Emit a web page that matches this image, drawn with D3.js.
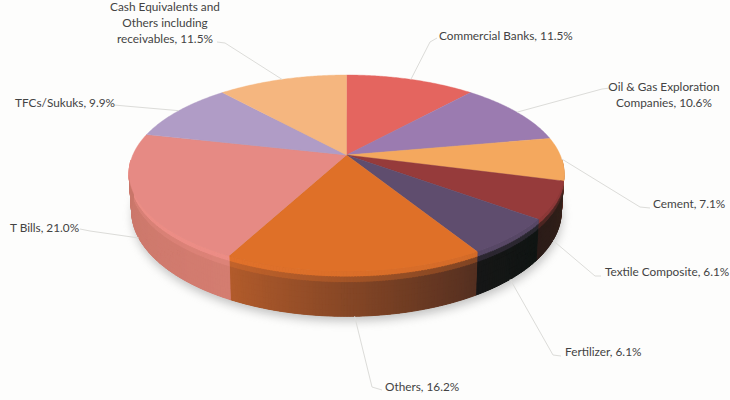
<!DOCTYPE html>
<html>
<head>
<meta charset="utf-8">
<script src="https://cdn.jsdelivr.net/npm/d3@7/dist/d3.min.js"></script>
<style>
  html, body { margin: 0; padding: 0; background: #fdfdfc; }
  svg { display: block; }
  text { font-family: Lato, "Open Sans", sans-serif; font-size: 11.8px; fill: #434343; }
</style>
</head>
<body>
<svg id="chart" width="730" height="400"></svg>
<script>
// Portfolio sectors, clockwise from twelve o'clock
const categories = ["Commercial Banks", "Oil & Gas Exploration Companies", "Cement",
  "Textile Composite", "Fertilizer", "Others", "T Bills", "TFCs/Sukuks",
  "Cash Equivalents and Others including receivables"];
const shares = [11.5, 10.6, 7.1, 6.1, 6.1, 16.2, 21.0, 9.9, 11.5];

const topColors = ["#e4655f", "#9b7bb0", "#f4a85e", "#963b3b", "#5f4d6e", "#df7028", "#e68a84", "#b09cc6", "#f5b67f"];
// Wall shade at the left and right end of each slice's visible rim
const wallLeft = ["#000", "#000", "#5a2c22", "#2a1c18", "#161616", "#b35c2b", "#c9766a", "#000", "#000"];
const wallRight = ["#000", "#000", "#3a1f19", "#33201a", "#101513", "#542f20", "#d47d70", "#000", "#000"];

// Words per label line, and label placement
const wordsPerLine = [[4], [4, 2], [2], [3], [2], [2], [3], [2], [3, 2, 2]];
const labelPos = [
  { x: 439, y: 40, anchor: "start" },
  { x: 664, y: 91, anchor: "middle" },
  { x: 653, y: 208, anchor: "start" },
  { x: 605, y: 276, anchor: "start" },
  { x: 565, y: 356, anchor: "start" },
  { x: 385, y: 391, anchor: "start" },
  { x: 10, y: 232, anchor: "start" },
  { x: 15, y: 107, anchor: "start" },
  { x: 165, y: 11, anchor: "middle" }
];
// Elbow and end of each leader line, running from the rim to the label
const leaderEnds = [
  [[430, 42], [437, 38]],
  [[602, 89], [610, 88]],
  [[640, 207], [650, 208]],
  [[595, 276], [601, 276]],
  [[553, 355], [561, 356]],
  [[372, 387], [382, 390]],
  [[90, 231], [80, 229]],
  [[125, 106], [114, 105]],
  [[225, 43], [217, 42]]
];

const svg = d3.select("#chart");
const width = 730, height = 400;

// Perspective view of the disc: apex of the slices, horizontal and vertical reach, depth falloff
const apex = { x: 346.5, y: 155 };
const reachX = 213.7, reachY = 94.8, falloff = 0.185;
const wallDepth = 36.7;

const rimPoint = (angle, drop = 0, radius = 1) => {
  const u = Math.sin(angle) * radius, v = Math.cos(angle) * radius;
  const d = 1 + falloff * v;
  return [apex.x + reachX * u * (1 - 0.012 * drop) / d,
          apex.y - reachY * v / d + drop * wallDepth / d];
};

const pieData = d3.pie().sort(null).value(d => d)(shares);
const lineGen = d3.line();

const sampleArc = (a0, a1, step = 0.01) => {
  const n = Math.max(1, Math.ceil((a1 - a0) / step));
  return d3.range(n + 1).map(i => a0 + (a1 - a0) * i / n);
};

// Soft shadow under the disc
const defs = svg.append("defs");
defs.append("filter").attr("id", "soft").attr("x", "-10%").attr("y", "-20%")
  .attr("width", "120%").attr("height", "140%")
  .append("feGaussianBlur").attr("stdDeviation", 5);

svg.append("rect").attr("width", width).attr("height", height).attr("fill", "#fdfdfc");

svg.append("path")
  .attr("d", lineGen(sampleArc(0, 2 * Math.PI, 0.03).map(a => rimPoint(a, 1))) + "Z")
  .attr("transform", "translate(1,5)")
  .attr("fill", "#8a8a8a").attr("opacity", 0.5).attr("filter", "url(#soft)");

// Wall: thin rim strips shaded across each slice, blending up into a bevel at the top edge
const wallGroup = svg.append("g").attr("class", "wall");
const frontStart = 1.62, frontEnd = 4.66;
const bevelLayers = d3.range(0, 1, 0.125);
const ease = d3.scaleLinear().domain([0, 0.22]).range([0, 1]).clamp(true);

pieData.forEach((slice, i) => {
  const a0 = Math.max(slice.startAngle, frontStart), a1 = Math.min(slice.endAngle, frontEnd);
  if (a1 <= a0) return;
  const angles = sampleArc(a0, a1, 0.012);
  const shade = d3.scaleLinear().domain([a1, a0]).range([wallLeft[i], wallRight[i]]);

  // Solid backing so strip seams never let the page colour through
  wallGroup.append("path")
    .attr("d", lineGen([...angles.map(a => rimPoint(a, 0)), ...angles.slice().reverse().map(a => rimPoint(a, 1))]) + "Z")
    .attr("fill", shade((a0 + a1) / 2));

  angles.slice(0, -1).forEach((a, k) => {
    const b = angles[k + 1];
    bevelLayers.forEach(t0 => {
      const t1 = t0 + 0.125;
      const poly = [rimPoint(a, t0), rimPoint(b, t0), rimPoint(b, t1), rimPoint(a, t1)];
      const col = d3.interpolateRgb(d3.rgb(topColors[i]).brighter(0.12), shade(a))(ease(t0 + 0.03));
      wallGroup.append("path").attr("d", lineGen(poly) + "Z")
        .attr("fill", col).attr("stroke", col).attr("stroke-width", 0.9);
    });
  });
});

// Top face of the disc
svg.append("g").selectAll("path").data(pieData).join("path")
  .attr("d", d => lineGen([[apex.x, apex.y], ...sampleArc(d.startAngle, d.endAngle).map(a => rimPoint(a))]) + "Z")
  .attr("fill", (d, i) => topColors[i])
  .attr("stroke", (d, i) => topColors[i]).attr("stroke-width", 0.4);

// Leader lines start on the slice's mid angle; front slices start from the wall's lower edge
const leaders = svg.append("g").attr("fill", "none").attr("stroke", "#dcdcd9").attr("stroke-width", 1);
pieData.forEach((slice, i) => {
  const mid = (slice.startAngle + slice.endAngle) / 2;
  const isFront = mid > 1.9 && mid < 4.4;
  leaders.append("path").attr("d", lineGen([rimPoint(mid, isFront ? 1 : 0), ...leaderEnds[i]]));
});

// Labels
const fmt = d3.format(".1f");
const labels = svg.append("g");
categories.forEach((name, i) => {
  const words = `${name}, ${fmt(shares[i])}%`.split(" ");
  const text = labels.append("text")
    .attr("x", labelPos[i].x).attr("y", labelPos[i].y)
    .attr("text-anchor", labelPos[i].anchor);
  let from = 0;
  const counts = wordsPerLine[i];
  counts.forEach((count, line) => {
    const to = line === counts.length - 1 ? words.length : from + count;
    text.append("tspan").attr("x", labelPos[i].x).attr("dy", line ? 16 : 0)
      .text(words.slice(from, to).join(" "));
    from = to;
  });
});
</script>
</body>
</html>
